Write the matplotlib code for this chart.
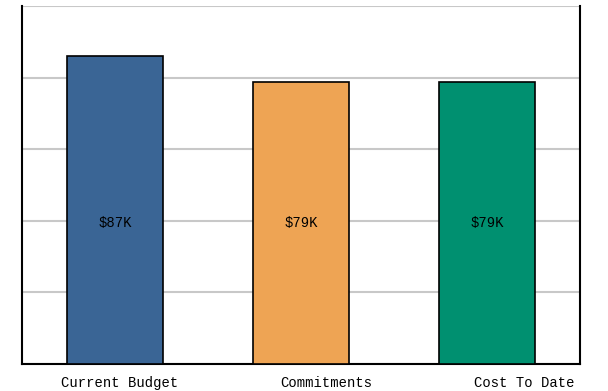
import matplotlib.pyplot as plt
import matplotlib.transforms as mtransforms
import numpy as np

categories = ["Current Budget", "Commitments", "Cost To Date"]
values = [86.0, 78.8, 78.8]  # thousands of dollars
labels = ["$87K", "$79K", "$79K"]
colors = ["#3a6595", "#eea454", "#009070"]
y_ticks = [0, 20, 40, 60, 80, 100]
label_shift_px = [5, 25, 37]  # category labels sit right of the bars


def main() -> None:
    fig = plt.figure(figsize=(6.08, 3.91), dpi=100)
    ax = fig.add_axes([22 / 608, 27 / 391, 558 / 608, 358 / 391])

    x = np.arange(len(categories))
    ax.bar(x, values, width=0.52, color=colors, edgecolor="black",
           linewidth=1.2, zorder=3)

    label_y = min(values) / 2
    for xi, lab in zip(x, labels):
        ax.text(xi, label_y, lab, ha="center", va="center",
                fontsize=10, family="Liberation Mono", zorder=4)

    ax.set_xlim(-0.5, len(categories) - 0.5)
    ax.set_ylim(0, 100)
    ax.set_yticks(y_ticks)
    ax.yaxis.grid(True, color="#c8c8c8", linewidth=1.5, zorder=0)
    ax.tick_params(axis="y", left=False, labelleft=False)
    ax.tick_params(axis="x", bottom=False, pad=5)
    ax.set_xticks(x)
    ax.set_xticklabels(categories, family="Liberation Mono", fontsize=10)
    for lbl, dx in zip(ax.get_xticklabels(), label_shift_px):
        shift = mtransforms.ScaledTranslation(dx / 100, 0, fig.dpi_scale_trans)
        lbl.set_transform(lbl.get_transform() + shift)

    for side in ("left", "right", "bottom"):
        ax.spines[side].set_linewidth(1.5)
        ax.spines[side].set_color("black")
    ax.spines["top"].set_visible(False)

    fig.savefig("out.png", dpi=100)
    plt.close(fig)


if __name__ == "__main__":
    main()
